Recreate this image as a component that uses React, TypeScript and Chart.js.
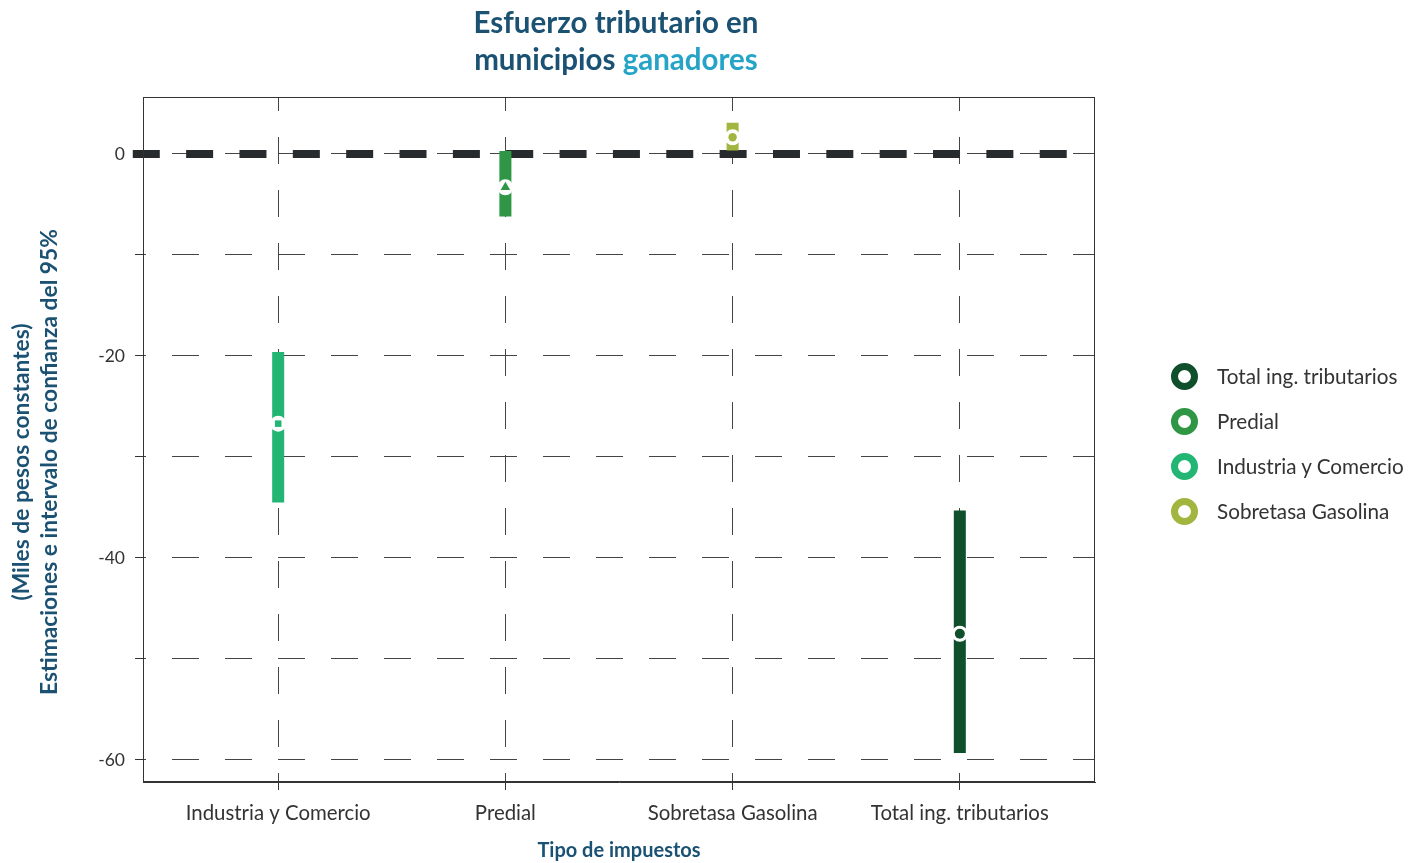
import React, { useEffect, useRef } from "react";
import { Chart, registerables } from "chart.js";

Chart.register(...registerables);

// ---- Data ----
const categories = ["Industria y Comercio", "Predial", "Sobretasa Gasolina", "Total ing. tributarios"];
const estimates = [-26.7, -3.3, 1.65, -47.5];
const lowerCI = [-34.5, -6.2, 0.35, -59.3];
const upperCI = [-19.6, 0.3, 3.1, -35.3];
const yTicks = [0, -10, -20, -30, -40, -50, -60];
const yLabelTicks = [0, -20, -40, -60];
const legendOrder = ["Total ing. tributarios", "Predial", "Industria y Comercio", "Sobretasa Gasolina"];
const zeroLineX = [-0.64, 3.5];

// ---- Styles ----
const seriesColors: Record<string, string> = {
  "Industria y Comercio": "#23b573",
  "Predial": "#2f9645",
  "Sobretasa Gasolina": "#a2b53f",
  "Total ing. tributarios": "#0f4f2b",
};
const markerShapes = ["rect", "triangle", "circle", "circle"];
const markerRadius = [4.6, 5.5, 4.2, 5];
const FONT = "Lato, 'Source Sans Pro', sans-serif";
const DARK = "#1b5273";
const LIGHT = "#25a4c8";

const boxPlugin = {
  id: "plotBox",
  afterDraw(chart: any) {
    const { ctx, chartArea: a } = chart;
    ctx.save();
    ctx.strokeStyle = "#333";
    ctx.lineWidth = 1;
    ctx.strokeRect(a.left + 0.5, a.top + 0.5, a.right - a.left - 1, a.bottom - a.top - 1);
    ctx.restore();
  },
};

export default function App() {
  const ref = useRef<HTMLCanvasElement>(null);

  useEffect(() => {
    if (!ref.current) return;
    const datasets: any[] = [];
    // markers
    categories.forEach((c, i) => {
      datasets.push({
        type: "scatter",
        label: c + " est",
        data: [{ x: i, y: estimates[i] }],
        pointStyle: markerShapes[i],
        pointRadius: markerRadius[i],
        backgroundColor: seriesColors[c],
        borderWidth: 0,
        order: 0,
      });
    });
    // white halos
    categories.forEach((c, i) => {
      datasets.push({
        type: "scatter",
        label: c + " halo",
        data: [{ x: i, y: estimates[i] }],
        pointStyle: "circle",
        pointRadius: 8,
        backgroundColor: "#ffffff",
        borderWidth: 0,
        order: 1,
      });
    });
    // CI bars
    categories.forEach((c, i) => {
      datasets.push({
        type: "line",
        label: c,
        data: [
          { x: i, y: upperCI[i] },
          { x: i, y: lowerCI[i] },
        ],
        borderColor: seriesColors[c],
        borderWidth: 12,
        borderCapStyle: "butt",
        pointRadius: 0,
        order: 2,
      });
    });
    // zero reference line
    datasets.push({
      type: "line",
      label: "zero",
      data: zeroLineX.map((x) => ({ x, y: 0 })),
      borderColor: "#272b2e",
      borderWidth: 8,
      borderDash: [27, 26.35],
      borderCapStyle: "butt",
      pointRadius: 0,
      clip: false,
      order: 3,
    });

    const chart = new Chart(ref.current, {
      type: "scatter",
      data: { datasets },
      plugins: [boxPlugin],
      options: {
        animation: false,
        responsive: false,
        maintainAspectRatio: false,
        layout: { padding: { top: 97, right: 329, left: 0, bottom: 0 } },
        plugins: {
          legend: { display: false },
          title: { display: false },
          tooltip: { enabled: false },
        },
        scales: {
          x: {
            type: "linear",
            min: -0.595,
            max: 3.595,
            afterBuildTicks: (s: any) => {
              s.ticks = categories.map((_, i) => ({ value: i }));
            },
            afterFit: (s: any) => {
              s.height = 81;
            },
            ticks: {
              callback: (v: any) => categories[v as number] ?? "",
              color: "#333",
              font: { family: FONT, size: 20.4 },
              padding: 11,
              maxRotation: 0,
              autoSkip: false,
            },
            grid: {
              color: "#444",
              lineWidth: 1,
              tickLength: 8,
              tickColor: "#333",
            },
            border: { display: true, color: "#333", dash: [27, 26], dashOffset: 13 },
            title: {
              display: true,
              text: "Tipo de impuestos",
              color: DARK,
              font: { family: FONT, size: 20, weight: "bold" },
              padding: { top: 0, bottom: 0 },
            },
          },
          y: {
            type: "linear",
            min: -62.18,
            max: 5.64,
            afterBuildTicks: (s: any) => {
              s.ticks = yTicks.map((v) => ({ value: v }));
            },
            afterFit: (s: any) => {
              s.width = 143;
            },
            ticks: {
              callback: (v: any) => (yLabelTicks.includes(v as number) ? String(v) : ""),
              color: "#333",
              font: { family: FONT, size: 17.5 },
              padding: 10,
              autoSkip: false,
            },
            grid: {
              color: "#444",
              lineWidth: 1,
              tickLength: 8,
              tickColor: "#333",
            },
            border: { display: true, color: "#333", dash: [27, 26], dashOffset: 25 },
          },
        },
      },
    } as any);
    return () => chart.destroy();
  }, []);

  return (
    <div style={{ position: "absolute", left: 0, top: 0, width: 1424, height: 863, background: "#fff", fontFamily: FONT }}>
      <canvas ref={ref} width={1424} height={863} style={{ position: "absolute", left: 0, top: 0, width: 1424, height: 863 }} />
      <div
        style={{
          position: "absolute",
          left: 0,
          top: 3,
          width: 1232,
          textAlign: "center",
          fontSize: 29.5,
          lineHeight: "37px",
          fontWeight: 700,
          color: DARK,
        }}
      >
        <div>Esfuerzo tributario en</div>
        <div>
          municipios <span style={{ color: LIGHT }}>ganadores</span>
        </div>
      </div>
      {[
        { text: "(Miles de pesos constantes)", x: 20 },
        { text: "Estimaciones e intervalo de confianza del 95%", x: 48 },
      ].map((t) => (
        <div
          key={t.text}
          style={{
            position: "absolute",
            left: t.x,
            top: 462,
            transform: "translate(-50%, -50%) rotate(-90deg)",
            whiteSpace: "nowrap",
            fontSize: 22.8,
            fontWeight: 700,
            color: DARK,
            lineHeight: "28px",
          }}
        >
          {t.text}
        </div>
      ))}
      <div style={{ position: "absolute", left: 1171, top: 353.5 }}>
        {legendOrder.map((name) => (
          <div key={name} style={{ display: "flex", alignItems: "center", height: 45 }}>
            <span
              style={{
                display: "inline-block",
                width: 13,
                height: 13,
                borderRadius: "50%",
                border: `7px solid ${seriesColors[name]}`,
                background: "#fff",
                flex: "none",
              }}
            />
            <span style={{ marginLeft: 19, fontSize: 20.7, color: "#333", lineHeight: "26px", whiteSpace: "nowrap" }}>
              {name}
            </span>
          </div>
        ))}
      </div>
    </div>
  );
}
